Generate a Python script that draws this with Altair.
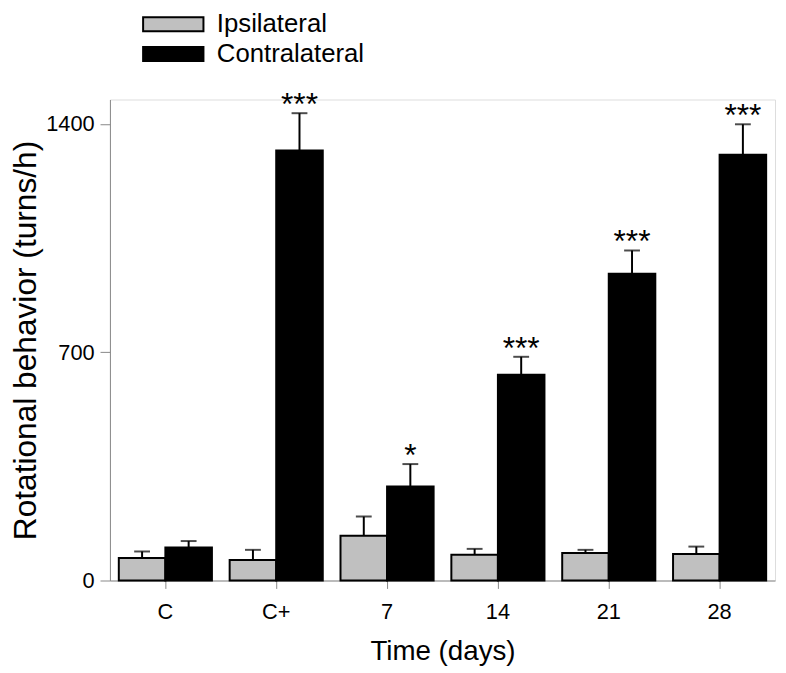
import altair as alt
import pandas as pd

categories = ["C", "C+", "7", "14", "21", "28"]
series = ["Ipsilateral", "Contralateral"]
ipsi = [69, 63, 137, 79, 84, 81]
ipsi_err = [20, 31, 59, 18, 10, 23]
contra = [101, 1319, 288, 631, 941, 1306]
contra_err = [20, 114, 69, 55, 71, 93]
sig = ["", "***", "*", "***", "***", "***"]

rows = []
for i, c in enumerate(categories):
    rows.append({"cat": c, "side": series[0], "value": ipsi[i], "top": ipsi[i] + ipsi_err[i], "sig": ""})
    rows.append({"cat": c, "side": series[1], "value": contra[i], "top": contra[i] + contra_err[i], "sig": sig[i]})
df = pd.DataFrame(rows)

FONT = "Liberation Sans"

x = alt.X("cat:N", sort=categories,
          scale=alt.Scale(paddingInner=0.16, paddingOuter=0.08),
          axis=alt.Axis(title="Time (days)", labelAngle=0, labelFontSize=22,
                        labelPadding=13, tickSize=8, titleFontSize=28,
                        titleY=72, titleBaseline="middle",
                        titleFontWeight="normal"))
xo = alt.XOffset("side:N", sort=series, scale=alt.Scale(paddingInner=0, paddingOuter=0))

bars = alt.Chart(df).mark_bar(stroke="black", strokeWidth=2).encode(
    x=x, xOffset=xo,
    y=alt.Y("value:Q", scale=alt.Scale(domain=[0, 1475], nice=False),
            axis=alt.Axis(values=[0, 700, 1400], format="d", title="Rotational behavior (turns/h)",
                          labelFontSize=22, tickSize=10, labelPadding=6, grid=False,
                          titleFontSize=32, titleFontWeight="normal",
                          titleX=-85, titleY=243, titleBaseline="middle")),
    fill=alt.Fill("side:N", sort=series,
                  scale=alt.Scale(domain=series, range=["#c0c0c0", "#000000"]),
                  legend=alt.Legend(title=None, orient="none", legendX=51, legendY=-89,
                                    symbolType="M-3,-0.69H3V0.69H-3Z", symbolSize=413,
                                    symbolStrokeColor="black", symbolStrokeWidth=2,
                                    labelFontSize=26, labelOffset=31, rowPadding=4,
                                    symbolOpacity=1, labelFont=FONT)),
)

err = alt.Chart(df).mark_rule(color="black", strokeWidth=2).encode(
    x=alt.X("cat:N", sort=categories), xOffset=xo,
    y="value:Q", y2="top:Q",
)
caps = alt.Chart(df).mark_tick(color="black", thickness=2, size=16, orient="horizontal").encode(
    x=alt.X("cat:N", sort=categories), xOffset=xo, y="top:Q",
)
stars = alt.Chart(df).transform_filter("datum.sig != ''").mark_text(
    fontSize=32, font=FONT, baseline="alphabetic", dy=2, color="black"
).encode(
    x=alt.X("cat:N", sort=categories), xOffset=xo, y="top:Q", text="sig:N",
)

chart = alt.layer(bars, err, caps, stars).properties(
    width=672, height=486,
    autosize=alt.AutoSizeParams(type="none"),
    padding={"left": 103, "top": 89, "right": 3, "bottom": 90},
).configure_view(stroke=None).configure_axis(
    domainColor="black", domainWidth=2, tickColor="black", tickWidth=2,
    labelColor="black", titleColor="black", labelFont=FONT, titleFont=FONT,
).configure(background="white")

chart.save("out.html", embed_options={"renderer": "svg", "actions": False})
